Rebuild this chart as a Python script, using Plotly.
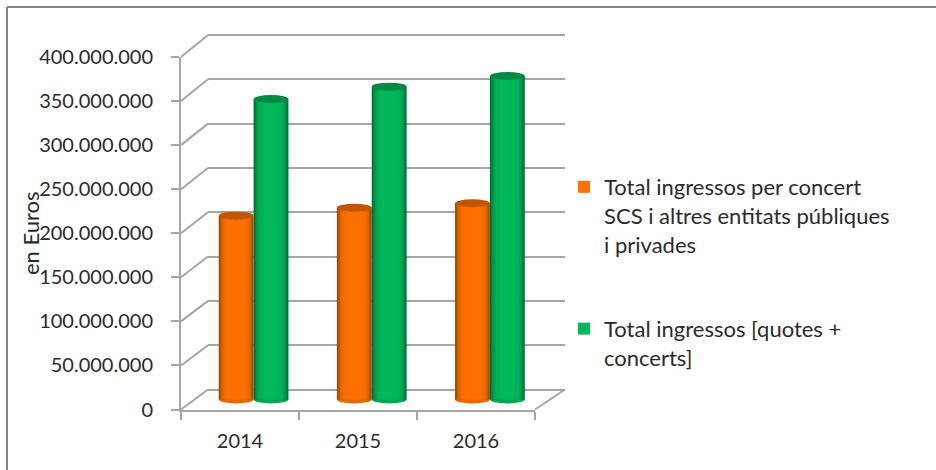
import plotly.graph_objects as go

W = 936
H = 470

anys = ["2014", "2015", "2016"]
concerts = [208000000, 217000000, 222000000]
totals = [340000000, 354000000, 366000000]
ticks_y = [0, 50000000, 100000000, 150000000, 200000000, 250000000, 300000000, 350000000, 400000000]
nom_concerts = "Total ingressos per concert<br>SCS i altres entitats públiques<br>i privades"
nom_totals = "Total ingressos [quotes +<br>concerts]"

GRIS = "#A6A6A6"
TEXT = "#2B2B2B"
FONT = "Lato"
# tons del cilindre, de la vora cap al centre, i amplada relativa de cada capa
TONS_TARONJA = ["#A04A00", "#BC5500", "#D66000", "#EA6800", "#F76D00", "#FF7000"]
TONS_VERD = ["#006F38", "#00823F", "#009649", "#00A652", "#00B259", "#00B85C"]
CAPES = [1.0, 0.93, 0.86, 0.78, 0.66, 0.44]
TOP_TARONJA = "#C45500"
TOP_VERD = "#008A45"


def px_x(p):
    return p / W


def px_y(p):
    return 1 - p / H


fig = go.Figure()

# una traça buida perque els eixos frontal i del fons es dibuixin
fig.add_trace(go.Scatter(x=anys, y=[None, None, None], xaxis="x", yaxis="y",
                         showlegend=False, hoverinfo="skip"))
fig.add_trace(go.Scatter(x=[0, 1], y=[None, None], xaxis="x2", yaxis="y2",
                         showlegend=False, hoverinfo="skip"))

# barres al pla del mig, cada cilindre fet de barres superposades cada cop mes estretes
AMPLE = 0.295
for nom, valors, tons, centre in [
    (nom_concerts, concerts, TONS_TARONJA, -AMPLE / 2),
    (nom_totals, totals, TONS_VERD, AMPLE / 2),
]:
    for to, capa in zip(tons, CAPES):
        w = AMPLE * capa
        fig.add_trace(go.Bar(
            x=anys, y=valors, xaxis="x3", yaxis="y3",
            width=w, offset=centre - w / 2,
            marker=dict(color=to, line=dict(width=0)),
            name=nom,
            legendgroup=nom,
            showlegend=False,
            hoverinfo="skip",
        ))
    # entrada de llegenda, amb el color pla
    fig.add_trace(go.Bar(
        x=anys, y=[None, None, None], xaxis="x3", yaxis="y3",
        marker=dict(color=tons[-1], line=dict(width=0)),
        name=nom,
        legendgroup=nom,
        showlegend=True,
    ))

shapes = []
# el·lipses de dalt i de baix de cada cilindre
RY = 4.5e6
for k in range(len(anys)):
    for valors, centre, top, base in [
        (concerts, -AMPLE / 2, TOP_TARONJA, TONS_TARONJA[3]),
        (totals, AMPLE / 2, TOP_VERD, TONS_VERD[3]),
    ]:
        x0 = k + centre - AMPLE / 2
        x1 = k + centre + AMPLE / 2
        shapes.append(dict(type="circle", xref="x3", yref="y3", x0=x0, x1=x1,
                           y0=-RY, y1=RY, fillcolor=base, line_width=0, layer="below"))
        shapes.append(dict(type="circle", xref="x3", yref="y3", x0=x0, x1=x1,
                           y0=valors[k] - RY, y1=valors[k] + RY, fillcolor=top,
                           line_width=0, layer="above"))

# diagonals del pla frontal a la paret del fons
Y_FRONT_0, Y_FRONT_400 = 409.5, 57
Y_BACK_0, Y_BACK_400 = 389.5, 35
Y_MIG_0, Y_MIG_400 = 399.5, 46
for t in ticks_y:
    f = t / 400000000
    yf = Y_FRONT_0 + (Y_FRONT_400 - Y_FRONT_0) * f
    yb = Y_BACK_0 + (Y_BACK_400 - Y_BACK_0) * f
    shapes.append(dict(type="line", xref="paper", yref="paper",
                       x0=px_x(181), x1=px_x(208), y0=px_y(yf), y1=px_y(yb),
                       line=dict(color=GRIS, width=2), layer="below"))
shapes.append(dict(type="line", xref="paper", yref="paper",
                   x0=px_x(535), x1=px_x(565), y0=px_y(409.5), y1=px_y(389.5),
                   line=dict(color=GRIS, width=2), layer="below"))
# marc exterior
shapes.append(dict(type="line", xref="paper", yref="paper",
                   x0=px_x(7), x1=px_x(7), y0=px_y(7), y1=px_y(470),
                   line=dict(color="#868686", width=2)))
shapes.append(dict(type="line", xref="paper", yref="paper",
                   x0=px_x(7), x1=px_x(936), y0=px_y(7), y1=px_y(7),
                   line=dict(color="#868686", width=2)))

# marge de l'eix del fons (la graella no es dibuixa just a la vora del rang)
MARGE_FONS = 4000000
px_m_fons = (Y_BACK_0 - Y_BACK_400) / 400000000
# marge de l'eix del mig, perque l'el·lipse de baix no quedi retallada
MARGE_MIG = 10000000
px_m_mig = (Y_MIG_0 - Y_MIG_400) / 400000000

fig.update_layout(
    width=W,
    height=H,
    margin=dict(l=0, r=0, t=0, b=0),
    paper_bgcolor="white",
    plot_bgcolor="rgba(0,0,0,0)",
    separators=",.",
    barmode="overlay",
    font=dict(family=FONT, size=20, color=TEXT),
    shapes=shapes,
    annotations=[dict(
        text="en Euros", textangle=-90, showarrow=False,
        xref="paper", yref="paper", x=px_x(30), y=px_y(233),
        xanchor="center", yanchor="middle",
        font=dict(family=FONT, size=22, color=TEXT),
    )],
    legend=dict(
        x=px_x(564), y=px_y(166), xanchor="left", yanchor="top",
        font=dict(family=FONT, size=22, color=TEXT),
        bgcolor="rgba(0,0,0,0)",
        traceorder="grouped",
        tracegroupgap=53,
        valign="top",
        itemclick=False,
        itemdoubleclick=False,
    ),
    # pla frontal: etiquetes i eixos
    xaxis=dict(
        domain=[px_x(181), px_x(535)], anchor="y", automargin=False,
        type="category", categoryorder="array", categoryarray=anys,
        range=[-0.5, 2.5], tickson="boundaries",
        ticks="outside", ticklen=8, tickwidth=2, tickcolor=GRIS,
        ticklabelstandoff=12,
        showline=True, linecolor=GRIS, linewidth=2, showgrid=False,
        tickfont=dict(family=FONT, size=20, color=TEXT),
    ),
    yaxis=dict(
        domain=[px_y(Y_FRONT_0), px_y(Y_FRONT_400)], anchor="x", automargin=False,
        range=[0, 400000000], tickvals=ticks_y, tickformat=",d",
        ticks="outside", ticklen=8, tickwidth=2, tickcolor=GRIS,
        ticklabelstandoff=14,
        showline=True, linecolor=GRIS, linewidth=2, showgrid=False, zeroline=False,
        tickfont=dict(family=FONT, size=20, color=TEXT),
    ),
    # paret del fons: linies de graella
    xaxis2=dict(
        domain=[px_x(208), px_x(565)], anchor="y2", automargin=False,
        range=[0, 1], visible=False,
    ),
    yaxis2=dict(
        domain=[px_y(Y_BACK_0 + MARGE_FONS * px_m_fons), px_y(Y_BACK_400 - MARGE_FONS * px_m_fons)],
        anchor="x2", automargin=False,
        range=[-MARGE_FONS, 400000000 + MARGE_FONS], tickvals=ticks_y, showgrid=True,
        gridcolor=GRIS, gridwidth=2, zeroline=False,
        showticklabels=False, ticks="",
    ),
    # pla del mig: cilindres
    xaxis3=dict(
        domain=[px_x(194.5), px_x(549)], anchor="y3", automargin=False,
        type="category", categoryorder="array", categoryarray=anys,
        range=[-0.5, 2.5], visible=False,
    ),
    yaxis3=dict(
        domain=[px_y(Y_MIG_0 + MARGE_MIG * px_m_mig), px_y(Y_MIG_400)], anchor="x3", automargin=False,
        range=[-MARGE_MIG, 400000000], visible=False,
    ),
)

fig.write_html("out.html", config=dict(displayModeBar=False),
               post_script="document.body.style.margin='0';")
